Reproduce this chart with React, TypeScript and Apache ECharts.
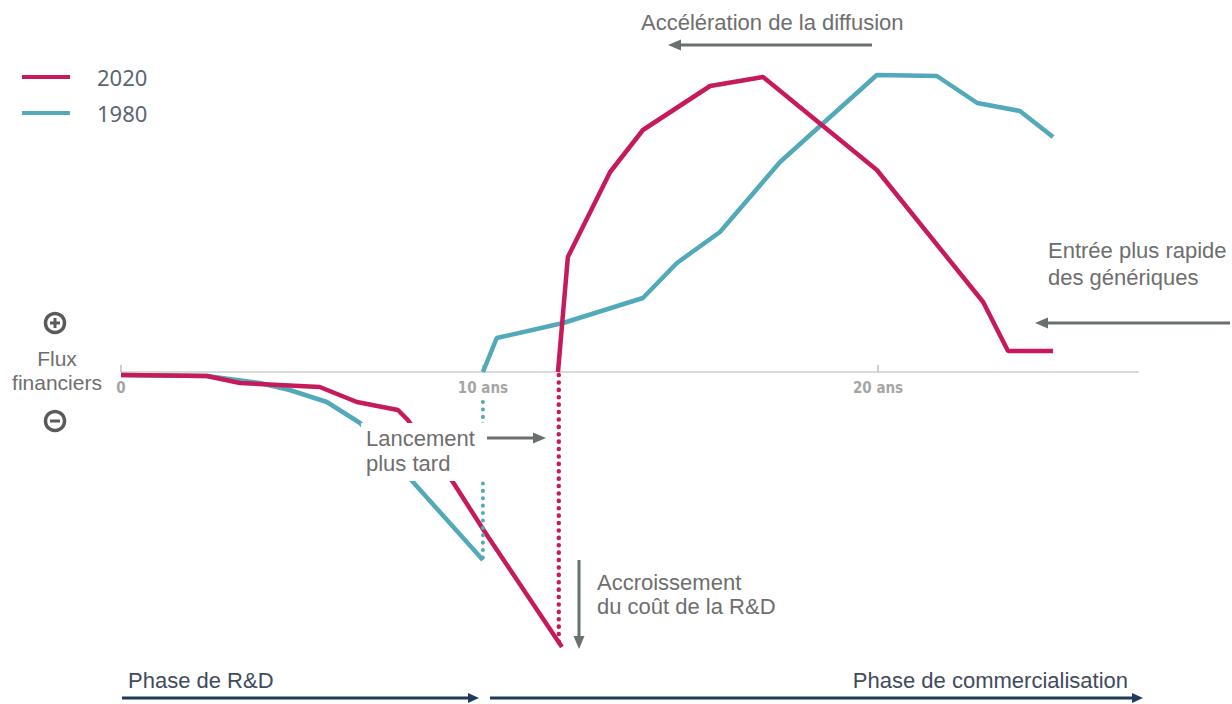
import React, { useEffect, useRef } from "react";
import * as echarts from "echarts";

// Years since start (x) and financial flow in arbitrary units (y)
const rd2020: [number, number][] = [
  [0.84, -0.3], [3.01, -0.4], [3.85, -1.1], [5.87, -1.5], [6.81, -3.0],
  [7.85, -3.8], [8.1, -4.8], [9.24, -11.0], [10.05, -16.0], [12.0, -27.5],
];
const sales2020: [number, number][] = [
  [11.9, 0], [12.15, 11.5], [13.22, 20.0], [14.05, 24.2], [15.75, 28.6],
  [17.09, 29.5], [19.97, 20.2], [22.66, 7.0], [23.29, 2.1], [24.43, 2.1],
];
const rd1980: [number, number][] = [
  [0.84, -0.3], [3.01, -0.4], [4.35, -1.1], [5.11, -1.8], [6.05, -3.0],
  [6.89, -5.1], [8.23, -11.0], [10.0, -18.8],
];
const sales1980: [number, number][] = [
  [10.0, 0], [10.35, 3.4], [12.03, 4.9], [14.05, 7.4], [14.91, 10.9],
  [16.0, 14.0], [17.52, 21.0], [19.97, 29.7], [21.49, 29.6], [22.51, 26.9],
  [23.59, 26.1], [24.43, 23.5],
];
const launch2020: [number, number][] = [[11.92, -0.3], [11.92, -27.3]];
const launch1980: [number, number][] = [[10.0, -3.0], [10.0, -18.8]];
const tickValues = [0.84, 10, 20];
const legendNames = ["2020", "1980"];

const PINK = "#c61a5c";
const TEAL = "#52a9b9";
const GRAY = "#6e6e6e";
const ARROW_GRAY = "#6a706c";
const NAVY = "#1f3a5a";
const FONT = "Liberation Sans";

function arrow(x1: number, y1: number, x2: number, y2: number, color: string, w: number, hl: number, hw: number) {
  const dx = x2 - x1, dy = y2 - y1;
  const len = Math.sqrt(dx * dx + dy * dy);
  const ux = dx / len, uy = dy / len;
  const bx = x2 - ux * hl, by = y2 - uy * hl;
  const px = -uy * hw / 2, py = ux * hw / 2;
  return [
    { type: "line", z: 100, shape: { x1, y1, x2: bx + ux * 2, y2: by + uy * 2 }, style: { stroke: color, lineWidth: w } },
    { type: "polygon", z: 100, shape: { points: [[x2, y2], [bx + px, by + py], [bx - px, by - py]] }, style: { fill: color } },
  ];
}

function txt(x: number, y: number, text: string, fill: string, size: number, align = "left") {
  return {
    type: "text", z: 101, x, y,
    style: { text, fill, font: `${size}px "${FONT}"`, textAlign: align, textVerticalAlign: "middle" },
  };
}

export default function App() {
  const ref = useRef<HTMLDivElement>(null);
  useEffect(() => {
    const chart = echarts.init(ref.current!, null, { renderer: "svg" });
    const lineBase = { type: "line", showSymbol: false, symbol: "none", silent: true };
    chart.setOption({
      animation: false,
      backgroundColor: "#ffffff",
      grid: { left: 121, right: 94, top: 72, bottom: 32 },
      legend: {
        data: legendNames,
        orient: "vertical",
        left: 22,
        top: 66,
        padding: 0,
        itemWidth: 48,
        itemHeight: 4,
        itemGap: 14,
        icon: "rect",
        textStyle: { fontFamily: "Noto Sans", fontSize: 22, lineHeight: 22, color: "#5a6574", padding: [0, 0, 0, 22] },
      },
      xAxis: {
        type: "value",
        min: 0.84,
        max: 26.58,
        offset: -300,
        splitLine: { show: false },
        axisLine: { onZero: false, lineStyle: { color: "#d9d9d9", width: 2 } },
        axisTick: { show: true, inside: true, customValues: tickValues, length: 7, lineStyle: { color: "#bdbdbd", width: 1.5 } },
        axisLabel: {
          customValues: tickValues,
          formatter: (v: number) => (v < 1 ? "0" : `${Math.round(v)} ans`),
          color: "#a5a5a5",
          fontFamily: "DejaVu Sans Condensed",
          fontWeight: "bold",
          fontSize: 15,
          margin: 8,
        },
      },
      yAxis: { type: "value", min: -30, max: 30, show: false, splitLine: { show: false } },
      series: [
        { ...lineBase, name: "1980", data: rd1980, lineStyle: { color: TEAL, width: 4.5 }, itemStyle: { color: TEAL } },
        { ...lineBase, name: "1980", data: sales1980, lineStyle: { color: TEAL, width: 4.5 }, itemStyle: { color: TEAL } },
        { ...lineBase, name: "2020", data: rd2020, lineStyle: { color: PINK, width: 4.5 }, itemStyle: { color: PINK } },
        { ...lineBase, name: "2020", data: sales2020, lineStyle: { color: PINK, width: 4.5 }, itemStyle: { color: PINK } },
        { ...lineBase, name: "launch1980", data: launch1980, lineStyle: { color: TEAL, width: 4, type: [0.1, 7.3], cap: "round" } },
        { ...lineBase, name: "launch2020", data: launch2020, lineStyle: { color: PINK, width: 4.5, type: [0.1, 7.3], cap: "round" } },
      ],
      graphic: [
        // white mask behind "Lancement plus tard"
        { type: "rect", z: 50, shape: { x: 361, y: 423, width: 125, height: 58 }, style: { fill: "#ffffff" } },
        txt(641, 22, "Accélération de la diffusion", GRAY, 22),
        ...arrow(872, 45, 668, 45, ARROW_GRAY, 3, 13, 11),
        txt(1048, 250, "Entrée plus rapide", GRAY, 22),
        txt(1048, 277, "des génériques", GRAY, 22),
        ...arrow(1230, 323, 1035, 323, ARROW_GRAY, 3, 13, 11),
        txt(366, 438, "Lancement", GRAY, 22),
        txt(366, 463, "plus tard", GRAY, 22),
        ...arrow(487, 438, 546, 438, ARROW_GRAY, 3, 13, 11),
        txt(597, 582, "Accroissement", GRAY, 22),
        txt(597, 606, "du coût de la R&D", GRAY, 22),
        ...arrow(579, 560, 579, 649, ARROW_GRAY, 3, 13, 11),
        txt(57, 358, "Flux", GRAY, 21, "center"),
        txt(57, 382, "financiers", GRAY, 21, "center"),
        // plus / minus symbols
        { type: "circle", z: 100, shape: { cx: 55, cy: 323, r: 9.5 }, style: { fill: "none", stroke: "#5a5a5a", lineWidth: 3.5 } },
        { type: "line", z: 100, shape: { x1: 50, y1: 323, x2: 60, y2: 323 }, style: { stroke: "#5a5a5a", lineWidth: 3 } },
        { type: "line", z: 100, shape: { x1: 55, y1: 318, x2: 55, y2: 328 }, style: { stroke: "#5a5a5a", lineWidth: 3 } },
        { type: "circle", z: 100, shape: { cx: 55, cy: 421, r: 9.5 }, style: { fill: "none", stroke: "#5a5a5a", lineWidth: 3.5 } },
        { type: "line", z: 100, shape: { x1: 50, y1: 421, x2: 60, y2: 421 }, style: { stroke: "#5a5a5a", lineWidth: 3 } },
        txt(128, 680, "Phase de R&D", "#3f4b5c", 22),
        ...arrow(122, 698, 479, 698, NAVY, 3, 11, 10),
        txt(1128, 680, "Phase de commercialisation", "#3f4b5c", 22, "right"),
        ...arrow(490, 698, 1143, 698, NAVY, 3, 11, 10),
      ],
    });
    return () => chart.dispose();
  }, []);
  return <div ref={ref} style={{ position: "fixed", left: 0, top: 0, width: 1232, height: 704 }} />;
}
